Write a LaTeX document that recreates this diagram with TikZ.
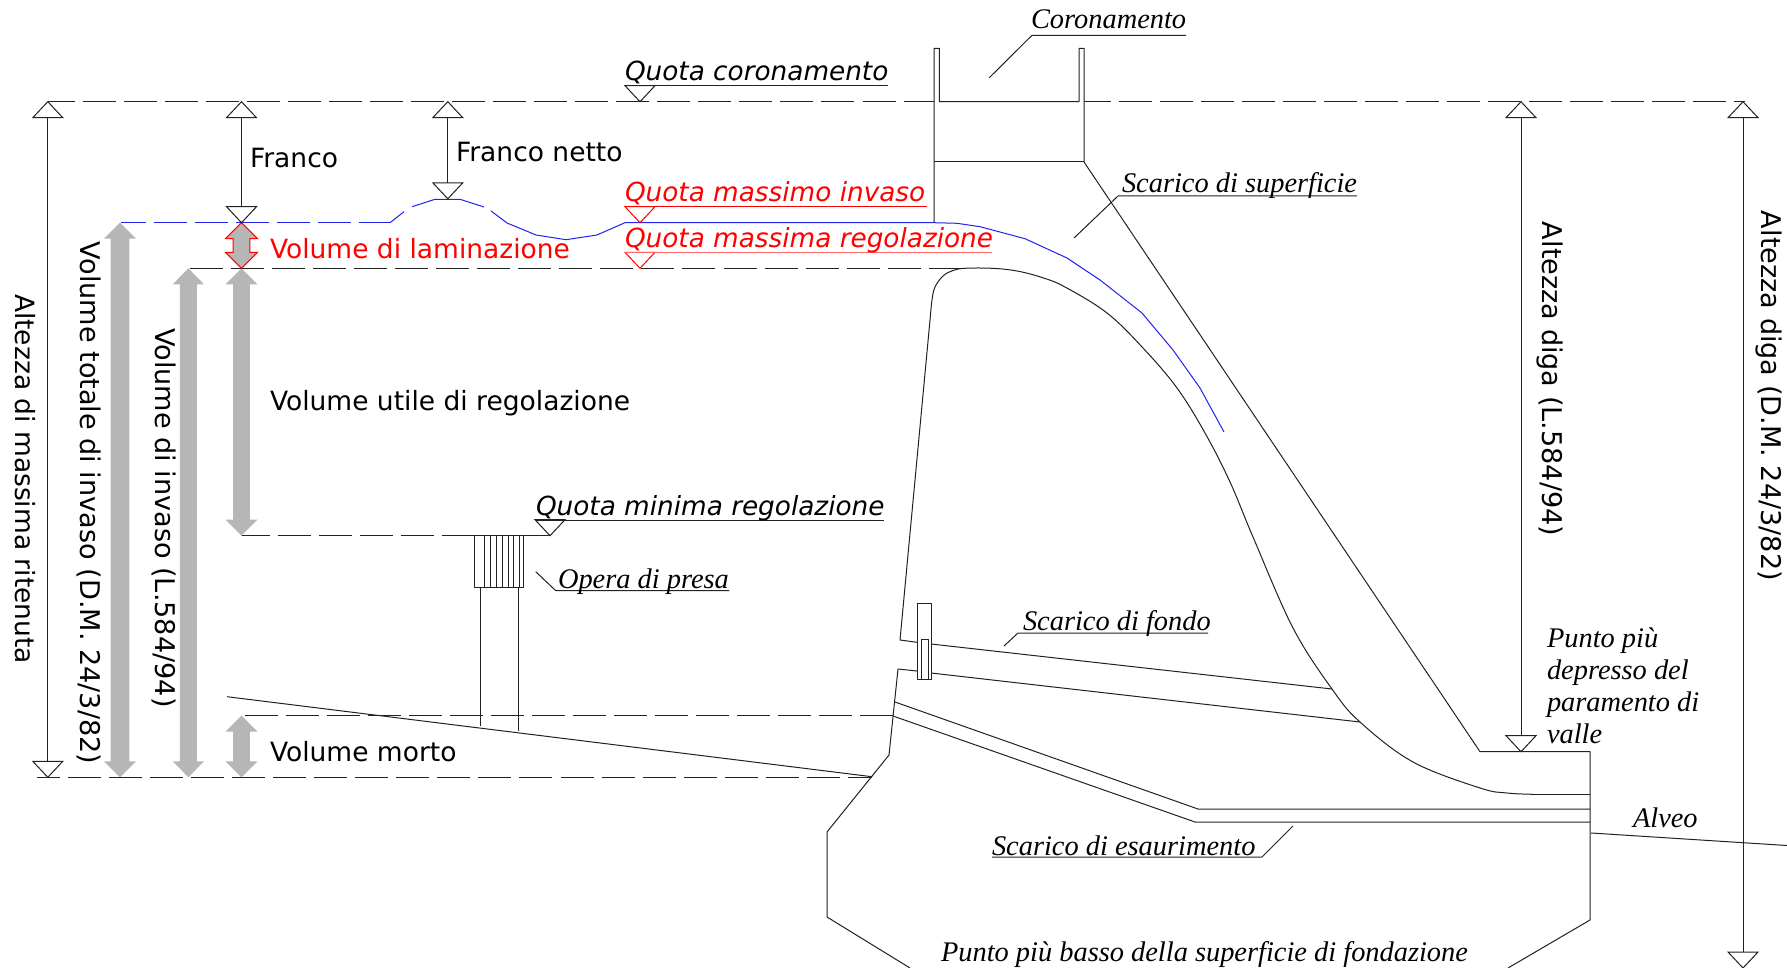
\documentclass[tikz,border=0pt]{standalone}
\usepackage{fontspec}
\setmainfont{Liberation Serif}
\newfontfamily\djfont{DejaVu Sans}
\newfontfamily\tsfont{Liberation Serif}
\definecolor{greyarrow}{HTML}{B6B6B6}
\definecolor{linedark}{HTML}{222222}
\definecolor{bluewater}{HTML}{2222EE}
\newcommand{\greyarr}[6]{% x, ytop, ybot, head half, shaft half, style
  \path[#6] (#1,#2) -- (#1+#4,#2+16) -- (#1+#5,#2+16) -- (#1+#5,#3-16) -- (#1+#4,#3-16) -- (#1,#3) -- (#1-#4,#3-16) -- (#1-#5,#3-16) -- (#1-#5,#2+16) -- (#1-#4,#2+16) -- cycle;}
\tikzset{
  lin/.style={draw=linedark,line width=0.5pt,line join=round},
  dashlvl/.style={draw=linedark,line width=0.5pt,dash pattern=on 16.5pt off 4.02pt},
  blu/.style={draw=bluewater,line width=0.5pt,line join=round},
  triup/.pic={\draw[draw=linedark,fill=white,line width=0.5pt,line join=miter] (0,0) -- (15,16) -- (-15,16) -- cycle;},
  tridn/.pic={\draw[draw=linedark,fill=white,line width=0.5pt,line join=miter] (0,0) -- (15,-16) -- (-15,-16) -- cycle;},
  trired/.pic={\draw[draw=red,fill=white,line width=0.5pt,line join=miter] (0,0) -- (15,-16) -- (-15,-16) -- cycle;},
  sanslab/.style={inner sep=0pt,outer sep=0pt,font=\djfont\fontsize{13.25}{15}\selectfont,anchor=base west},
  quotalab/.style={sanslab,font=\djfont\itshape\fontsize{13.15}{15}\selectfont},
  serlab/.style={inner sep=0pt,outer sep=0pt,font=\tsfont\itshape\fontsize{14.2}{16}\selectfont,anchor=base west},
  rotlab/.style={sanslab,rotate=-90},
  rotlabw/.style={sanslab,rotate=-90,font=\djfont\fontsize{13.55}{15}\selectfont},
  gfill/.style={fill=greyarrow,draw=none},
}
\begin{document}
\begin{tikzpicture}[x=0.5pt,y=-0.5pt]
\useasboundingbox (0,0) rectangle (1787,968);
\path[fill=white] (0,0) rectangle (1787,968);

% levels
\draw[dashlvl,dash phase=3.15pt] (48,101.7) -- (934,101.7);
\draw[dashlvl,dash phase=3.15pt] (1084,101.7) -- (1745,101.7);
\draw[dashlvl] (190,268.3) -- (965,268.3);
\draw[dashlvl,dash phase=2.5pt] (241.5,535.7) -- (550,535.7);
\draw[dashlvl,dash phase=19pt] (241.5,715.7) -- (893,715.7);
\draw[dashlvl,dash phase=5pt] (37,777.3) -- (872,777.3);

% water surface
\draw[blu,dash pattern=on 16.5pt off 4.02pt,dash phase=3.75pt] (120.5,222.7) -- (390,222.7);
\draw[blu] (390,222.7) -- (404,211.7);
\draw[blu] (412,206.7) -- (435,199.3) -- (460,199.3) -- (484,207);
\draw[blu] (491,211) -- (507,223) -- (536,235) -- (566,239.7) -- (597,235) -- (625,222.7) -- (934,222.7)
  -- (957,223.3) -- (980,226.7) -- (1025,238.7) -- (1067,258) -- (1100,280) -- (1142,313) -- (1173,350) -- (1200,388) -- (1224,432);

% dam body
\draw[lin] (934,222.7) -- (934,48.3) -- (939.3,48.3) -- (939.3,101.7) -- (1079,101.7) -- (1079,48.3) -- (1084,48.3) -- (1084,162) -- (1480,751.7) -- (1590,751.7) -- (1590,920) -- (1508,968);
\draw[lin] (934,162) -- (1084,162);
\draw[lin] plot[smooth,tension=0.6] coordinates {(930,320) (932,300) (935,287) (943,276) (953,270.5) (965,268.3) (992,268.3) (1017,271) (1042,277.5) (1065,287) (1107,313) (1143,348) (1177,388) (1205,433) (1230,482) (1253,537) (1293,628) (1332,689) (1360,722) (1413,762) (1480,788) (1507,793) (1533,794.3)};
\draw[lin] (1533,794.3) -- (1590,794.3);
\draw[lin] (930,320) -- (900,640) -- (917,642.3);
\draw[lin] (917,671) -- (898,669) -- (889,755) -- (827,832) -- (827,917) -- (910,968);
% bottom outlet
\draw[lin] (931,644) -- (1332,689);
\draw[lin] (931,673) -- (1360,722);
\draw[lin] (917,603) rectangle (931,679);
\draw[lin] (921,639) rectangle (928,679);
% drain
\draw[lin] (895,702) -- (1198,809) -- (1590,809);
\draw[lin] (893,716) -- (1195,822) -- (1590,822);
% ground
\draw[lin] (227,696.7) -- (872,776.7);
\draw[lin] (1591,833) -- (1787,845.5);

% intake
\draw[lin] (474.5,535.7) rectangle (523.7,587.3);
\foreach \hx in {484.4,490,496.4,502,508,513.4,519}{\draw[lin] (\hx,535.7) -- (\hx,587.3);}
\draw[lin] (480,587.3) -- (480,725.7);
\draw[lin] (518.3,587.3) -- (518.3,730.7);

% grey arrows
\greyarr{120}{222.7}{777.3}{16}{9.4}{gfill}
\greyarr{188.4}{268.3}{777.3}{15.6}{8.5}{gfill}
\greyarr{241.5}{268.3}{535.7}{16}{8.3}{gfill}
\greyarr{241.5}{715.7}{777.3}{16}{8.3}{gfill}
\greyarr{241.5}{222.7}{268.3}{16}{8.3}{fill=greyarrow,draw=red,line width=0.5pt,line join=miter}

% dimension lines
\draw[lin] (47.8,118) -- (47.8,761);
\draw[lin] (241.5,118) -- (241.5,207);
\draw[lin] (447.8,118) -- (447.8,183);
\draw[lin] (1521,118) -- (1521,736);
\draw[lin] (1743,118) -- (1743,952);
\path (47.8,101.7) pic {triup};
\path (47.8,777.3) pic {tridn};
\path (241.5,101.7) pic {triup};
\path (241.5,222.7) pic {tridn};
\path (447.8,101.7) pic {triup};
\path (447.8,198.8) pic {tridn};
\path (1521,101.7) pic {triup};
\path (1521,751.7) pic {tridn};
\path (1743,101.7) pic {triup};
\path (1743,968) pic {tridn};
\path (640,101.7) pic {tridn};
\path (550,535.7) pic {tridn};
\path (640,222.7) pic {trired};
\path (640,268.3) pic {trired};

% underlines and leaders
\draw[lin] (625,86) -- (888,86);
\draw[lin] (536,520.7) -- (884,520.7);
\draw[draw=red,line width=0.5pt] (625,207) -- (927,207);
\draw[draw=red!60,line width=0.8pt] (625,252.7) -- (992,252.7);
\draw[lin] (989,78) -- (1032,35.3) -- (1186,35.3);
\draw[lin] (1074,238) -- (1118,196) -- (1357,196);
\draw[lin] (1004,646) -- (1018,633) -- (1208,633);
\draw[lin] (1293,826) -- (1262,857) -- (992,857);
\draw[lin] (535.7,571.7) -- (555.8,590.7) -- (729.4,590.7);

% labels
\node[sanslab] (franco) at (250,168) {Franco};
\node[sanslab] (fnetto) at (456,161.5) {Franco netto};
\node[sanslab,text=red] (vlam) at (270,258) {Volume di laminazione};
\node[sanslab] (vutile) at (270,410.5) {Volume utile di regolazione};
\node[sanslab] (vmorto) at (270,761.7) {Volume morto};
\node[rotlab] (amr) at (15.6,294) {Altezza di massima ritenuta};
\node[rotlabw] (vti) at (80,242) {Volume totale di invaso (D.M. 24/3/82)};
\node[rotlabw] (vi) at (155.5,328) {Volume di invaso (L.584/94)};
\node[rotlabw] (ad1) at (1542,222) {Altezza diga (L.584/94)};
\node[rotlabw] (ad2) at (1761.5,211) {Altezza diga (D.M. 24/3/82)};
\node[quotalab] (qc) at (625,80.5) {Quota coronamento};
\node[quotalab,text=red] (qmi) at (625,201.5) {Quota massimo invaso};
\node[quotalab,text=red] (qmr) at (625,247.5) {Quota massima regolazione};
\node[quotalab] (qmin) at (536,515) {Quota minima regolazione};
\node[serlab] (cor) at (1031,28.5) {Coronamento};
\node[serlab] (ssup) at (1122,193) {Scarico di superficie};
\node[serlab] (sfon) at (1023,630) {Scarico di fondo};
\node[serlab] (sesa) at (992,855) {Scarico di esaurimento};
\node[serlab] (opera) at (558,588) {Opera di presa};
\node[serlab] (alveo) at (1633,827) {Alveo};
\node[serlab] (p1) at (1547,647) {Punto più};
\node[serlab] (p2) at (1547,679) {depresso del};
\node[serlab] (p3) at (1547,711) {paramento di};
\node[serlab] (p4) at (1547,743) {valle};
\node[serlab] (pb) at (941,961) {Punto più basso della superficie di fondazione};
\end{tikzpicture}
\end{document}
